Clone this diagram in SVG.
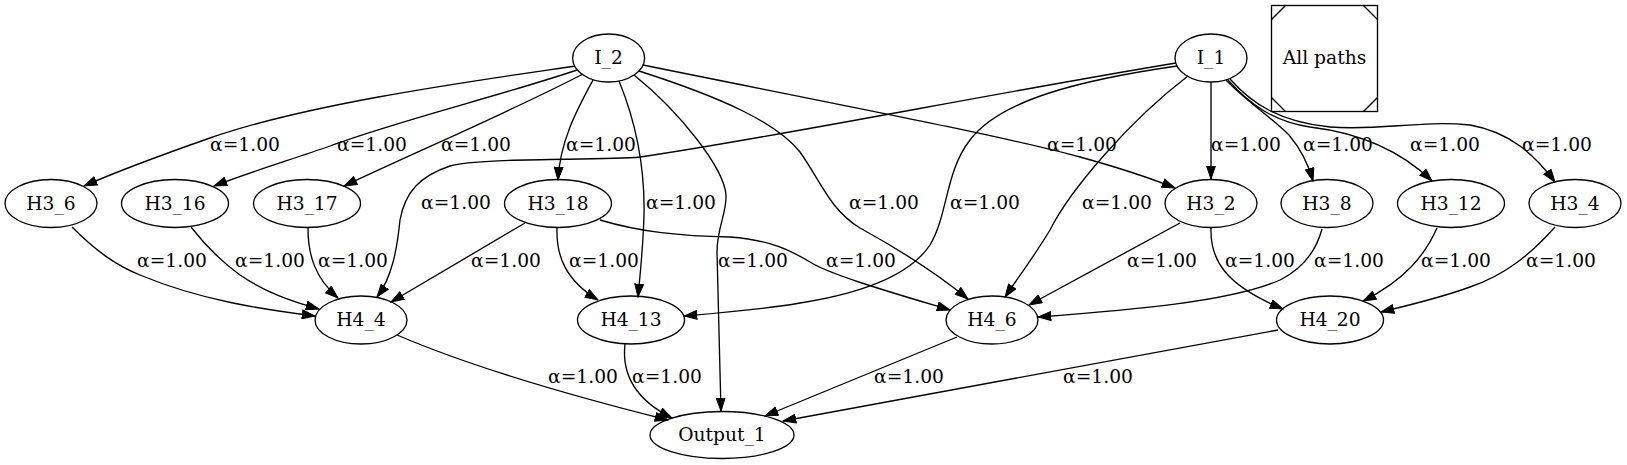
<svg xmlns="http://www.w3.org/2000/svg" width="1627" height="465" viewBox="0 0 1627 465">
<style>
text{font-family:"DejaVu Serif","Liberation Serif",serif;font-size:18.67px;fill:#000;text-anchor:middle}
.n ellipse,.n rect{fill:none;stroke:#000;stroke-width:1.33}
.n line{stroke:#000;stroke-width:1.33}
#edges path{fill:none;stroke:#000;stroke-width:1.33;marker-end:url(#ah)}
</style>
<defs>
<marker id="ah" viewBox="0 0 14 10" markerWidth="14" markerHeight="10" refX="13.3" refY="5" orient="auto" markerUnits="userSpaceOnUse">
<path d="M0.5,0.6 L13.3,5 L0.5,9.4 z" fill="#000" stroke="#000" stroke-width="1"/>
</marker>
</defs>
<rect width="1627" height="465" fill="#fff"/>
<g id="edges">
<path d="M575,66 C480,80 310,103 210,138 C170,152 125,168 84,186"/>
<path d="M577,70 C500,96 400,120 330,146 C290,160 250,172 214,186"/>
<path d="M583,74 C510,112 420,150 344,186"/>
<path d="M593,80 C578,108 560,140 558,180"/>
<path d="M619,81 C635,120 645,165 644,215 C643,250 640,275 638,297"/>
<path d="M634,75 C680,112 724,168 726,195 C727,212 717,228 717,252 L721,411"/>
<path d="M639,71 C720,97 776,122 800,152 C820,180 830,210 860,228 C900,250 940,276 968,299"/>
<path d="M643,65 C800,97 1000,135 1080,157 C1120,168 1150,178 1175,188"/>
<path d="M1176,63 C1000,92 760,140 640,157 C600,161 480,157 450,166 C420,176 405,192 400,220 C397,250 392,277 377,297"/>
<path d="M1177,66 C1080,80 1000,100 970,140 C945,172 948,215 930,245 C912,272 870,292 800,303 C760,310 720,313 684,316"/>
<path d="M1188,76 C1130,120 1070,190 1050,230 C1035,255 1020,275 1005,297"/>
<path d="M1211,82 L1211,179"/>
<path d="M1226,80 C1245,100 1272,118 1289,135 C1300,148 1308,163 1313,181"/>
<path d="M1228,80 C1250,105 1275,122 1310,127 C1360,133 1400,150 1432,181"/>
<path d="M1230,79 C1252,104 1280,122 1330,127 C1380,131 1420,120 1470,125 C1510,132 1535,155 1555,182"/>
<path d="M72,227 C95,250 115,265 140,275 C200,300 260,309 315,316"/>
<path d="M191,227 C205,245 222,262 240,275 C265,292 290,301 319,309"/>
<path d="M308,228 C308,255 315,278 338,298"/>
<path d="M525,223 L391,302"/>
<path d="M557,228 C556,255 565,280 598,300"/>
<path d="M600,220 C640,232 680,236 730,237 C770,240 790,250 810,262 C830,275 900,295 950,310"/>
<path d="M1180,223 L1029,305"/>
<path d="M1211,228 C1210,260 1225,285 1283,309"/>
<path d="M1322,229 C1315,255 1300,270 1280,280 C1230,302 1130,310 1038,317"/>
<path d="M1437,228 C1425,255 1405,280 1363,301"/>
<path d="M1555,227 C1530,255 1505,275 1470,287 C1440,298 1410,305 1381,312"/>
<path d="M397,335 C460,362 540,388 668,420"/>
<path d="M625,344 C622,370 632,398 672,418"/>
<path d="M957,337 L765,416"/>
<path d="M1278,330 L783,421"/>
</g>
<g id="labels">
<text x="245" y="151">α=1.00</text>
<text x="372" y="151">α=1.00</text>
<text x="476" y="151">α=1.00</text>
<text x="601" y="151">α=1.00</text>
<text x="1082" y="151">α=1.00</text>
<text x="1246" y="151">α=1.00</text>
<text x="1338" y="151">α=1.00</text>
<text x="1445" y="151">α=1.00</text>
<text x="1557" y="151">α=1.00</text>
<text x="456" y="209">α=1.00</text>
<text x="681" y="209">α=1.00</text>
<text x="884" y="209">α=1.00</text>
<text x="985" y="209">α=1.00</text>
<text x="1117" y="209">α=1.00</text>
<text x="172" y="267">α=1.00</text>
<text x="270" y="267">α=1.00</text>
<text x="353" y="267">α=1.00</text>
<text x="506" y="267">α=1.00</text>
<text x="604" y="267">α=1.00</text>
<text x="753" y="267">α=1.00</text>
<text x="861" y="267">α=1.00</text>
<text x="1162" y="267">α=1.00</text>
<text x="1260" y="267">α=1.00</text>
<text x="1349" y="267">α=1.00</text>
<text x="1456" y="267">α=1.00</text>
<text x="1561" y="267">α=1.00</text>
<text x="583" y="383">α=1.00</text>
<text x="667" y="383">α=1.00</text>
<text x="909" y="383">α=1.00</text>
<text x="1098" y="383">α=1.00</text>
</g>
<g id="I_2" class="n"><ellipse cx="608.6" cy="58" rx="36" ry="24"/><text x="608.6" y="64">I_2</text></g>
<g id="I_1" class="n"><ellipse cx="1211" cy="58" rx="36" ry="24"/><text x="1211" y="64">I_1</text></g>
<g id="all_paths" class="n"><rect x="1271.5" y="5.5" width="106" height="106"/>
<line x1="1271.5" y1="19.5" x2="1285.5" y2="5.5"/><line x1="1363.5" y1="5.5" x2="1377.5" y2="19.5"/>
<line x1="1271.5" y1="97.5" x2="1285.5" y2="111.5"/><line x1="1363.5" y1="111.5" x2="1377.5" y2="97.5"/>
<text x="1324.5" y="64">All paths</text></g>
<g id="H3_6" class="n"><ellipse cx="51" cy="203.5" rx="46" ry="24"/><text x="51" y="209.5">H3_6</text></g>
<g id="H3_16" class="n"><ellipse cx="175" cy="203.5" rx="53.5" ry="24"/><text x="175" y="209.5">H3_16</text></g>
<g id="H3_17" class="n"><ellipse cx="307" cy="203.5" rx="53.5" ry="24"/><text x="307" y="209.5">H3_17</text></g>
<g id="H3_18" class="n"><ellipse cx="558" cy="203.5" rx="53.5" ry="24"/><text x="558" y="209.5">H3_18</text></g>
<g id="H3_2" class="n"><ellipse cx="1211" cy="203.5" rx="46" ry="24"/><text x="1211" y="209.5">H3_2</text></g>
<g id="H3_8" class="n"><ellipse cx="1327" cy="203.5" rx="46" ry="24"/><text x="1327" y="209.5">H3_8</text></g>
<g id="H3_12" class="n"><ellipse cx="1451" cy="203.5" rx="53.5" ry="24"/><text x="1451" y="209.5">H3_12</text></g>
<g id="H3_4" class="n"><ellipse cx="1575" cy="203.5" rx="46" ry="24"/><text x="1575" y="209.5">H3_4</text></g>
<g id="H4_4" class="n"><ellipse cx="361" cy="320" rx="46" ry="24"/><text x="361" y="326">H4_4</text></g>
<g id="H4_13" class="n"><ellipse cx="631" cy="320" rx="53.5" ry="24"/><text x="631" y="326">H4_13</text></g>
<g id="H4_6" class="n"><ellipse cx="992" cy="320" rx="46" ry="24"/><text x="992" y="326">H4_6</text></g>
<g id="H4_20" class="n"><ellipse cx="1330" cy="320" rx="53.5" ry="24"/><text x="1330" y="326">H4_20</text></g>
<g id="Output_1" class="n"><ellipse cx="722" cy="435" rx="72" ry="23.5"/><text x="722" y="441">Output_1</text></g>
</svg>
